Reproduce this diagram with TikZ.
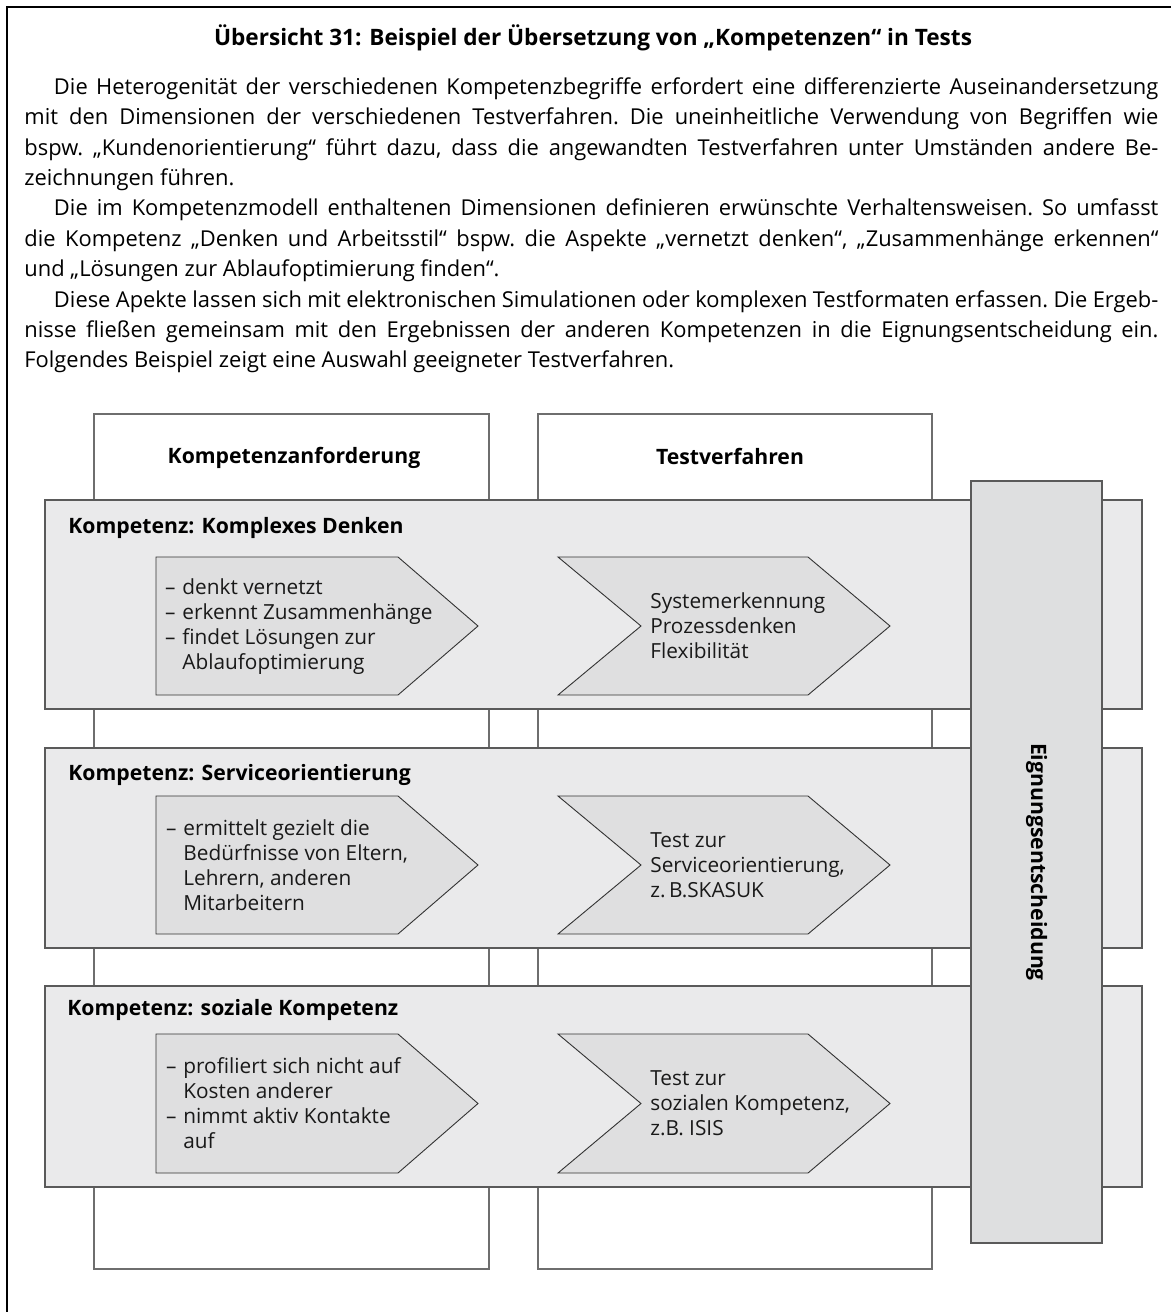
\documentclass[tikz,border=0pt]{standalone}
\usepackage{fontspec}
\setmainfont{Open Sans}
\definecolor{bandfill}{HTML}{EAEAEB}
\definecolor{chevfill}{HTML}{DFDFE0}
\definecolor{eigfill}{HTML}{DEDFE0}
\definecolor{bandline}{HTML}{5A5A5A}
\definecolor{colline}{HTML}{6E6E6E}
\definecolor{chevline}{HTML}{333333}
\newcommand\fsBody{\fontsize{10.95}{15.2}\selectfont\frenchspacing}
\newcommand\fsTitle{\fontsize{11.3}{15.2}\selectfont\bfseries}
\newcommand\fsChev{\fontsize{10.4}{12.5}\selectfont}
\newcommand\dashitem{\llap{–\hspace{3.5pt}}}
\begin{document}
\begin{tikzpicture}[x=0.5pt,y=-0.5pt,
  every node/.style={inner sep=0pt},
  txt/.style={anchor=base west, font=\fsBody},
  ttl/.style={font=\fontsize{10.6}{15.2}\selectfont\bfseries},
  colbox/.style={draw=colline, fill=white, line width=0.7pt},
  bandbox/.style={draw=bandline, fill=bandfill, line width=0.8pt},
  eigbox/.style={draw=bandline, fill=eigfill, line width=0.8pt},
  chev/.style={draw=chevline, fill=chevfill, line width=0.45pt},
  ctext/.style={anchor=west, align=left, font=\fsChev, text=black!90}]
\useasboundingbox (0,0) rectangle (1171,1312);
% outer frame (left and top only)
\draw[line width=1.25pt, line cap=rect] (7,1312) -- (7,7) -- (1171,7);
% title and introduction
\node[font=\fsTitle, anchor=base] (title) at (593,45.5) {Übersicht 31: Beispiel der Übersetzung von „Kompetenzen“ in Tests};
\node[txt] (l1) at (53.6,94.3) {\makebox[552.2pt][s]{Die Heterogenität der verschiedenen Kompetenzbegriffe erfordert eine differenzierte Auseinandersetzung}};
\node[txt] (l2) at (24,124.7) {\makebox[567pt][s]{mit den Dimensionen der verschiedenen Testverfahren. Die uneinheitliche Verwendung von Begriffen wie}};
\node[txt] (l3) at (24,155.1) {\makebox[567pt][s]{bspw. „Kundenorientierung“ führt dazu, dass die angewandten Testverfahren unter Umständen andere Be-}};
\node[txt] (l4) at (24,185.5) {zeichnungen führen.};
\node[txt] (l5) at (53.6,215.9) {\makebox[552.2pt][s]{Die im Kompetenzmodell enthaltenen Dimensionen definieren erwünschte Verhaltensweisen. So umfasst}};
\node[txt] (l6) at (24,246.3) {\makebox[567pt][s]{die Kompetenz „Denken und Arbeitsstil“ bspw. die Aspekte „vernetzt denken“, „Zusammenhänge erkennen“}};
\node[txt] (l7) at (24,276.7) {und „Lösungen zur Ablaufoptimierung finden“.};
\node[txt] (l8) at (53.6,307.1) {\makebox[552.2pt][s]{Diese Apekte lassen sich mit elektronischen Simulationen oder komplexen Testformaten erfassen. Die Ergeb-}};
\node[txt] (l9) at (24,337.5) {\makebox[567pt][s]{nisse fließen gemeinsam mit den Ergebnissen der anderen Kompetenzen in die Eignungsentscheidung ein.}};
\node[txt] (l10) at (24,367.2) {Folgendes Beispiel zeigt eine Auswahl geeigneter Testverfahren.};
% columns
\path[colbox] (94,414) rectangle (489,1269);
\path[colbox] (538,414) rectangle (932,1269);
\node[ttl, anchor=base] (h1) at (294,463) {Kompetenzanforderung};
\node[ttl, anchor=base] (h2) at (730,464) {Testverfahren};
% bands
\path[bandbox] (45,500) rectangle (1142,709);
\path[bandbox] (45,748) rectangle (1142,948);
\path[bandbox] (45,986) rectangle (1142,1187);
\node[ttl, anchor=base west] (b1) at (68,533) {Kompetenz: Komplexes Denken};
\node[ttl, anchor=base west] (b2) at (68,780) {Kompetenz: Serviceorientierung};
\node[ttl, anchor=base west] (b3) at (67,1015) {Kompetenz: soziale Kompetenz};
% Eignungsentscheidung
\path[eigbox] (971,481) rectangle (1102,1243);
\node[ttl, rotate=-90] (eig) at (1036.5,862) {Eignungsentscheidung};
% chevrons band 1
\draw[chev] (156,557) -- (398,557) -- (478,626) -- (398,695) -- (156,695) -- cycle;
\draw[chev] (558,557) -- (808,557) -- (890,626) -- (808,695) -- (558,695) -- (641,626) -- cycle;
\node[ctext] (t1a) at (182,627) {\dashitem denkt vernetzt\\\dashitem erkennt Zusammenhänge\\\dashitem findet Lösungen zur\\Ablaufoptimierung};
\node[ctext] (t1b) at (650,626) {Systemerkennung\\Prozessdenken\\Flexibilität};
% chevrons band 2
\draw[chev] (156,796) -- (398,796) -- (478,865) -- (398,934) -- (156,934) -- cycle;
\draw[chev] (558,796) -- (808,796) -- (890,865) -- (808,934) -- (558,934) -- (641,865) -- cycle;
\node[ctext] (t2a) at (183,865) {\dashitem ermittelt gezielt die\\Bedürfnisse von Eltern,\\Lehrern, anderen\\Mitarbeitern};
\node[ctext] (t2b) at (650,865) {Test zur\\Serviceorientierung,\\z.\,B.SKASUK};
% chevrons band 3
\draw[chev] (156,1034) -- (398,1034) -- (478,1103.5) -- (398,1173) -- (156,1173) -- cycle;
\draw[chev] (558,1034) -- (808,1034) -- (890,1103.5) -- (808,1173) -- (558,1173) -- (641,1103.5) -- cycle;
\node[ctext] (t3a) at (183,1103.5) {\dashitem profiliert sich nicht auf\\Kosten anderer\\\dashitem nimmt aktiv Kontakte\\auf};
\node[ctext] (t3b) at (650,1103.5) {Test zur\\sozialen Kompetenz,\\z.B. ISIS};
\end{tikzpicture}
\end{document}
